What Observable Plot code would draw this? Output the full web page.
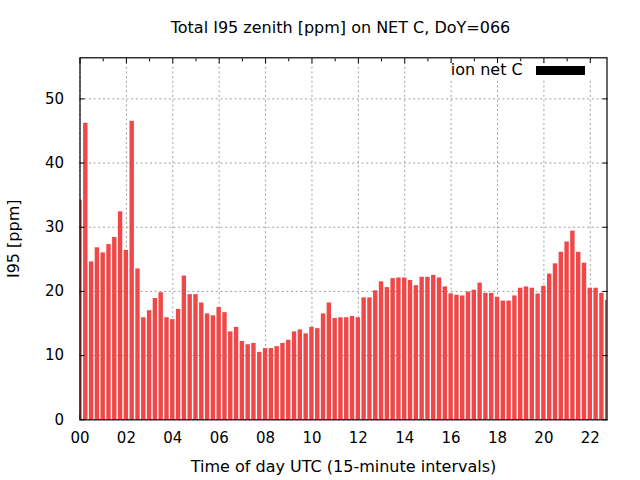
<!DOCTYPE html>
<html>
<head>
<meta charset="utf-8">
<script src="https://cdn.jsdelivr.net/npm/d3@7"></script>
<script src="https://cdn.jsdelivr.net/npm/@observablehq/plot@0.6"></script>
<style>
  body { margin: 0; background: #fff; }
  #wrap { position: relative; width: 640px; height: 480px; font-family: "DejaVu Sans", sans-serif; color: #000; background: #fff; }
  #title { position: absolute; left: 77px; width: 527px; top: 19px; text-align: center; font-size: 16px; line-height: 18px; white-space: nowrap; }
  #legend { position: absolute; left: 444px; top: 62.5px; width: 153px; height: 17px; background: #fff; font-size: 16px; line-height: 17px; }
  #legend .lab { position: absolute; right: 74.3px; top: -1.2px; white-space: nowrap; }
  #legend .sw { position: absolute; left: 91.7px; top: 3.5px; width: 49.3px; height: 9px; background: #000; }
  #chart { position: absolute; left: 0; top: 0; }
</style>
</head>
<body>
<div id="wrap">
  <div id="chart"></div>
  <div id="title"></div>
  <div id="legend"><span class="lab"></span><span class="sw"></span></div>
</div>
<script>
const titleText = "Total I95 zenith [ppm] on NET C, DoY=066";
const seriesName = "ion net C";
const xLabel = "Time of day UTC (15-minute intervals)";
const yLabel = "I95 [ppm]";

// one value per 15-minute interval, starting 00:00 UTC
const intervalHours = 0.25;
const i95 = [
  34.2, 46.2, 24.6, 26.8,
  26.0, 27.3, 28.4, 32.4,
  26.4, 46.5, 23.5, 15.9,
  17.0, 18.9, 19.8, 15.9,
  15.6, 17.2, 22.4, 19.5,
  19.5, 18.2, 16.5, 16.2,
  17.5, 16.7, 13.7, 14.4,
  12.2, 11.7, 11.9, 10.5,
  11.1, 11.1, 11.4, 11.9,
  12.4, 13.7, 14.0, 13.4,
  14.4, 14.2, 16.5, 18.2,
  15.8, 15.9, 15.9, 16.1,
  15.9, 19.0, 19.0, 20.1,
  21.5, 20.6, 22.0, 22.1,
  22.1, 21.7, 20.9, 22.2,
  22.2, 22.5, 22.1, 20.7,
  19.6, 19.4, 19.3, 19.9,
  20.2, 21.3, 19.7, 19.7,
  19.1, 18.5, 18.5, 19.3,
  20.5, 20.7, 20.5, 19.6,
  20.8, 22.7, 24.3, 26.1,
  27.7, 29.4, 26.1, 24.4,
  20.5, 20.5, 19.7, 18.6
];

const xMajorTicks = [0, 2, 4, 6, 8, 10, 12, 14, 16, 18, 20, 22];
const xMinorTicks = [1, 3, 5, 7, 9, 11, 13, 15, 17, 19, 21];
const xTickLabels = ["00", "02", "04", "06", "08", "10", "12", "14", "16", "18", "20", "22"];
const yTicks = [0, 10, 20, 30, 40, 50];
const yTickLabels = ["0", "10", "20", "30", "40", "50"];

const data = i95.map((v, i) => ({t: i * intervalHours, v}));
const halfBar = 0.095;

document.getElementById("title").textContent = titleText;
document.querySelector("#legend .lab").textContent = seriesName;

const gridStyle = {stroke: "#a0a0a0", strokeOpacity: 1, strokeWidth: 1, strokeDasharray: "2,2.7"};

const chart = Plot.plot({
  width: 640,
  height: 480,
  marginLeft: 79.5,
  marginRight: 33.5,
  marginTop: 57.3,
  marginBottom: 60.7,
  style: {fontFamily: "DejaVu Sans", fontSize: "15px", background: "white", color: "black", overflow: "visible"},
  x: {domain: [0, 22.72]},
  y: {domain: [0, 56.4]},
  marks: [
    Plot.gridX(xMajorTicks, gridStyle),
    Plot.gridY(yTicks, gridStyle),
    Plot.axisX(xMajorTicks, {anchor: "bottom", tickSize: -5, fill: "none", label: null}),
    Plot.axisX(xMinorTicks, {anchor: "bottom", tickSize: -3, fill: "none", label: null}),
    Plot.rectY(data, {x1: d => d.t - halfBar, x2: d => d.t + halfBar, y: "v", fill: "#f04848", clip: true}),
    Plot.axisX(xMajorTicks, {anchor: "top", tickSize: -5, fill: "none", label: null}),
    Plot.axisX(xMinorTicks, {anchor: "top", tickSize: -3, fill: "none", label: null}),
    Plot.axisY(yTicks, {anchor: "left", tickSize: -5, fill: "none", label: null}),
    Plot.axisY(yTicks, {anchor: "right", tickSize: -5, fill: "none", label: null}),
    Plot.axisX(xMajorTicks, {anchor: "bottom", tickSize: 0, tickPadding: 13, stroke: "none",
      tickFormat: (d, i) => xTickLabels[i], label: null}),
    Plot.axisY(yTicks, {anchor: "left", tickSize: 0, tickPadding: 16, stroke: "none",
      tickFormat: (d, i) => yTickLabels[i], label: null}),
    Plot.axisX([], {anchor: "bottom", tickSize: 0, stroke: "none", fontSize: 16,
      label: xLabel, labelAnchor: "center", labelArrow: "none", labelOffset: 52}),
    Plot.axisY([], {anchor: "left", tickSize: 0, stroke: "none", fontSize: 16,
      label: yLabel, labelAnchor: "center", labelArrow: "none", labelOffset: 72.5}),
    Plot.frame({stroke: "black", strokeWidth: 1.2})
  ]
});
document.getElementById("chart").appendChild(chart);
</script>
</body>
</html>
